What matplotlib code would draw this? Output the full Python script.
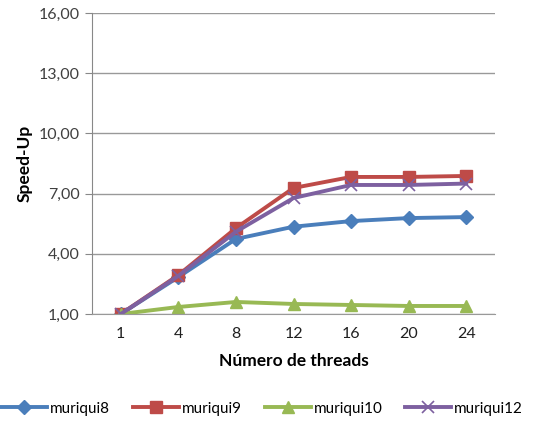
import numpy as np
import matplotlib.pyplot as plt

plt.rcParams['font.family'] = ['Lato', 'DejaVu Sans']

threads = ['1', '4', '8', '12', '16', '20', '24']
muriqui8 = [1.00, 2.84, 4.74, 5.35, 5.63, 5.78, 5.83]
muriqui9 = [1.00, 2.94, 5.28, 7.28, 7.83, 7.83, 7.88]
muriqui10 = [1.00, 1.35, 1.60, 1.50, 1.45, 1.40, 1.40]
muriqui12 = [1.00, 2.90, 5.10, 6.78, 7.43, 7.43, 7.50]

x = np.arange(len(threads))

fig = plt.figure(figsize=(5.35, 4.23), dpi=100)
ax = fig.add_axes([92/535, 1-314/423, (495-92)/535, (314-13)/423])

ax.plot(x, muriqui8, color='#4A7EBB', lw=2.8, marker='D', ms=7, label='muriqui8')
ax.plot(x, muriqui9, color='#BE4B48', lw=2.8, marker='s', ms=8, label='muriqui9')
ax.plot(x, muriqui10, color='#98B954', lw=2.8, marker='^', ms=9, label='muriqui10')
ax.plot(x, muriqui12, color='#7D60A0', lw=2.8, marker='x', ms=8, mew=1.2, label='muriqui12')

ax.set_xlim(-0.5, len(threads) - 0.5)
ax.set_ylim(1, 16)
yt = [1, 4, 7, 10, 13, 16]
ax.set_yticks(yt)
ax.set_yticklabels([('%.2f' % v).replace('.', ',') for v in yt], fontsize=11.5, color='#404040')
ax.set_xticks(x)
ax.set_xticklabels(threads, fontsize=11.5, color='#202020')
ax.tick_params(axis='x', length=0, pad=9)
ax.tick_params(axis='y', length=5, color='#888888', pad=4)

ax.grid(axis='y', color='#999999', lw=1)
ax.set_axisbelow(True)
for s in ['top', 'right']:
    ax.spines[s].set_visible(False)
ax.spines['left'].set_color('#888888')
ax.spines['bottom'].set_color('#999999')

ax.set_ylabel('Speed-Up', fontsize=12.5, fontweight='bold', labelpad=4)
ax.set_xlabel('Número de threads', fontsize=12.5, fontweight='bold', labelpad=9)

fig.legend(loc='lower center', bbox_to_anchor=(0.49, -0.015), ncol=4, frameon=False,
           fontsize=11, handlelength=3.0, columnspacing=1.5, handletextpad=0.2)

fig.savefig('out.png', dpi=100)
